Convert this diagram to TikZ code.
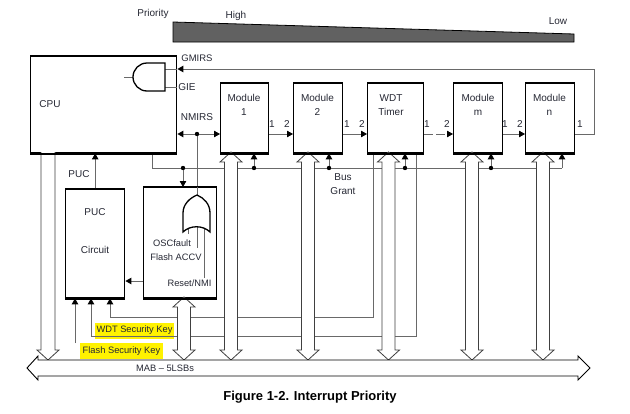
\documentclass[tikz,border=0pt]{standalone}
\usepackage{fontspec}
\setmainfont{Liberation Sans}
\usetikzlibrary{arrows.meta,calc}
\definecolor{txt}{RGB}{38,40,52}
\definecolor{lin}{RGB}{105,105,105}
\newcommand\HollowDV[3]{\draw[hollow] (#1,#2) -- ({#1+11},{#2+10}) -- ({#1+6.5},{#2+10}) -- ({#1+6.5},{#3-10}) -- ({#1+11},{#3-10}) -- (#1,#3) -- ({#1-11},{#3-10}) -- ({#1-6.5},{#3-10}) -- ({#1-6.5},{#2+10}) -- ({#1-11},{#2+10}) -- cycle;}
\begin{document}
\begin{tikzpicture}[x=1pt,y=-1pt,
  box/.style={draw=black, line width=1.4pt, fill=white, anchor=north west, inner sep=0pt},
  conn/.style={draw=lin, line width=0.9pt},
  arr/.style={conn, -{Triangle[length=6pt,width=6.5pt,fill=black,color=black]}},
  lbl/.style={font=\fontsize{10}{14}\selectfont, text=txt, inner sep=0pt, align=center},
  sml/.style={font=\fontsize{9.3}{11}\selectfont, text=txt, inner sep=0pt},
  hollow/.style={draw=black!75, line width=0.8pt, fill=white},
  gate/.style={draw=black, line width=1.3pt, fill=white},
]
\fill[white] (0,0) rectangle (630,413);
\useasboundingbox (0,0) rectangle (630,413);

% priority wedge
\node[sml, font=\fontsize{10}{12}\selectfont] (prio) at (153,14) {Priority};
\node[sml, font=\fontsize{10}{12}\selectfont] (high) at (236,16) {High};
\node[sml, font=\fontsize{10}{12}\selectfont] (low) at (558,21) {Low};
\filldraw[fill=black!62, draw=black, line width=0.8pt] (173,22) -- (574,34) -- (574,42) -- (173,42) -- cycle;

% highlights
\fill[yellow] (95,323) rectangle (174,339);
\fill[yellow] (80,343) rectangle (163,359);

% boxes (defined first for anchors, drawn later on top)
\path node[box, minimum width=146pt, minimum height=96pt] (cpu) at (30,56) {}
      node[box, minimum width=48pt, minimum height=69pt] (m1) at (220,83) {}
      node[box, minimum width=49pt, minimum height=69pt] (m2) at (293,83) {}
      node[box, minimum width=56pt, minimum height=69pt] (wdt) at (367,83) {}
      node[box, minimum width=49pt, minimum height=69pt] (mm) at (453,83) {}
      node[box, minimum width=49pt, minimum height=69pt] (mn) at (525,83) {}
      node[box, minimum width=59pt, minimum height=108pt] (puc) at (65,189) {}
      node[box, minimum width=73pt, minimum height=110pt] (nmi) at (143,187) {};

\coordinate (row) at (0,134);
\coordinate (gm) at (594,69);
\coordinate (nd) at (197,134);
\coordinate (bg) at (152,168);
\coordinate (gN) at (183,168);
\coordinate (g1) at (254,168);
\coordinate (g2) at (329,168);
\coordinate (gw) at (405,168);
\coordinate (gmm) at (491,168);
\coordinate (gn) at (562,168);
\coordinate (k1) at (373,317);
\coordinate (p3) at (110,317);
\coordinate (k2) at (416,336);
\coordinate (p2) at (91,336);
\coordinate (fk) at (75,343);
\coordinate (np) at (0,281);
\coordinate (orout) at (197,195);

% bus grant line
\draw[conn] (cpu.south -| bg) -- (bg) -- (gn);
\draw[arr] (gn) -- (gn |- mn.south);
\foreach \g/\b in {g1/m1, g2/m2, gw/wdt, gmm/mm} {
  \draw[arr] (\g) -- (\g |- \b.south);
  \fill (\g) circle (2.2);
}
\draw[arr] (gN) -- (gN |- nmi.north);
\fill (gN) circle (2.2);

% security key lines
\draw[arr] (wdt.south -| k1) -- (k1) -- (p3) -- (p3 |- puc.south);
\draw[arr] (wdt.south -| k2) -- (k2) -- (p2) -- (p2 |- puc.south);
\draw[arr] (fk) -- (fk |- puc.south);

% NMIRS
\draw[arr] (nd) -- (cpu.east |- nd);
\draw[arr] (nd) -- (m1.west |- nd);
\draw[conn] (nd) -- (orout);
\fill (nd) circle (2.2);

% module chain
\draw[arr] (m1.east |- row) -- (m2.west |- row);
\draw[arr] (m2.east |- row) -- (wdt.west |- row);
\draw[arr, dash pattern=on 9pt off 3pt] (wdt.east |- row) -- (mm.west |- row);
\draw[arr] (mm.east |- row) -- (mn.west |- row);
\draw[arr] (mn.east |- row) -- (gm |- row) -- (gm) -- (cpu.east |- gm);

% PUC and NMI arrows
\draw[arr] (puc.north) -- (puc.north |- cpu.south);
\draw[arr] (nmi.west |- np) -- (puc.east |- np);

% hollow arrows
\filldraw[hollow] (41,152) -- (41,350) -- (37,350) -- (48,360) -- (59,350) -- (55,350) -- (55,152);
\HollowDV{184}{297}{360}
\HollowDV{231}{152}{360}
\HollowDV{308}{152}{360}
\HollowDV{388.5}{152}{360}
\HollowDV{472}{152}{360}
\HollowDV{543}{152}{360}

% MAB bus
\filldraw[draw=black, line width=0.9pt, fill=white] (27,368) -- (38,356) -- (38,360) -- (578,360) -- (578,356) -- (590,368) -- (578,380) -- (578,376) -- (38,376) -- (38,380) -- cycle;
\node[sml] (mab) at (165,368) {MAB -- 5LSBs};

% draw boxes
\foreach \n in {cpu,m1,m2,wdt,mm,mn,puc,nmi} {
  \draw[black, line width=1.4pt] (\n.north west) ++(0.7,-0.7) rectangle ($(\n.south east)+(-0.7,0.7)$);
}

% AND gate in CPU
\draw[conn] (124,77) -- (133,77);
\draw[conn] (165,69) -- (cpu.east |- gm);
\draw[conn] (165,87) -- (cpu.east |- 0,87);
\draw[gate] (165,63) -- (147,63) arc (-90:-270:14) -- (165,91) -- cycle;

% OR gate in NMI box
\draw[conn] (188,229) -- (188,234);
\draw[conn] (197,227) -- (197,248);
\draw[conn] (204,228) -- (204,278);
\draw[gate] (183,232) -- (183,213) .. controls (183,204) and (190,198) .. (orout) .. controls (204,198) and (210,204) .. (210,213) -- (210,232) .. controls (203,225) and (190,225) .. (183,232) -- cycle;

% texts
\node[lbl] (tcpu) at (50,104) {CPU};
\node[sml, font=\fontsize{9.5}{11}\selectfont] (tgm) at (197,58) {GMIRS};
\node[lbl] (tgie) at (187,87) {GIE};
\node[lbl] (tnm) at (197,117) {NMIRS};
\node[lbl] (tm1) at (244,105) {Module\\1};
\node[lbl] (tm2) at (317.5,105) {Module\\2};
\node[lbl] (tw) at (391,105) {WDT\\Timer};
\node[lbl] (tmm) at (478,105) {Module\\m};
\node[lbl] (tmn) at (549.5,105) {Module\\n};
\foreach \x/\t in {272/1, 287/2, 347/1, 362/2, 427/1, 447/2, 505/1, 520/2, 580/1}
  \node[lbl] at (\x,124) {\t};
\node[lbl] (tpuc) at (79,174) {PUC};
\node[lbl] (tpc) at (95,250) {Circuit};
\node[lbl] (tpc2) at (95,212) {PUC};
\node[lbl] (tbg) at (343,184.5) {Bus\\Grant};
\node[sml] (tosc) at (172,243) {OSCfault};
\node[sml] (tfa) at (176,257) {Flash ACCV};
\node[sml] (trn) at (189.5,283) {Reset/NMI};
\node[sml] (twk) at (134.5,330) {WDT Security Key};
\node[sml] (tfk) at (121.5,351) {Flash Security Key};
\node[font=\bfseries\fontsize{13}{15}\selectfont, inner sep=0pt] (cap) at (310,397) {Figure 1-2. Interrupt Priority};
\end{tikzpicture}
\end{document}
